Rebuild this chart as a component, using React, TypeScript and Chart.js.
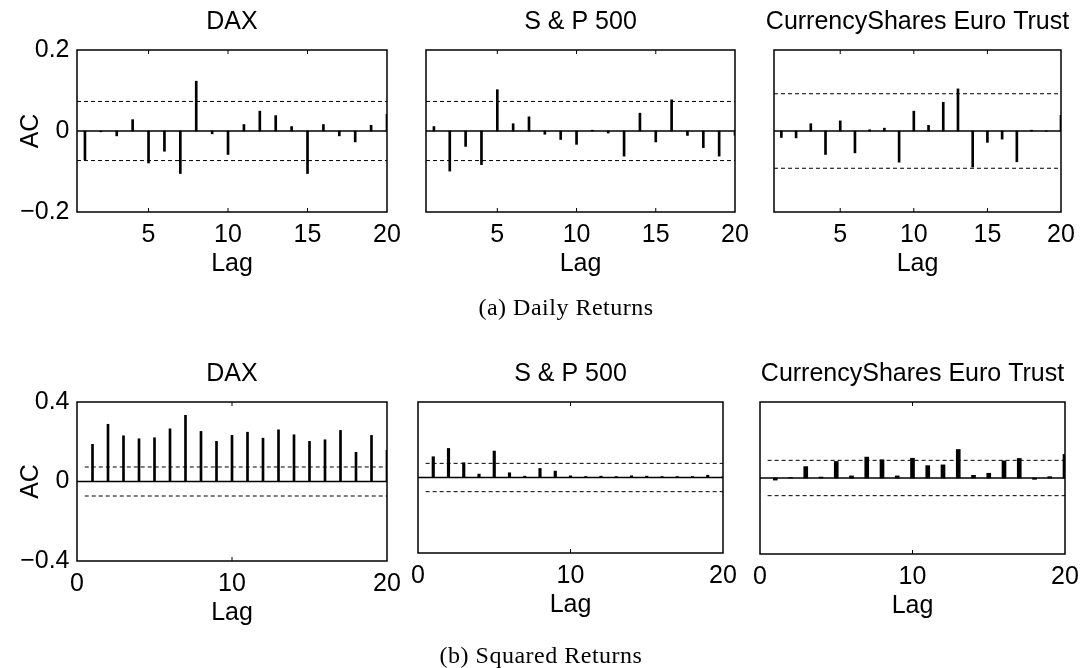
import React, { useEffect, useRef } from 'react';
import { Chart, registerables } from 'chart.js';

Chart.register(...registerables);

// ---------- data ----------
const lags = [1, 2, 3, 4, 5, 6, 7, 8, 9, 10, 11, 12, 13, 14, 15, 16, 17, 18, 19, 20];

const daxDaily = [-0.071, -0.002, -0.012, 0.028, -0.079, -0.05, -0.105, 0.123, -0.007, -0.058, 0.016, 0.049, 0.038, 0.011, -0.105, 0.016, -0.012, -0.027, 0.014, 0.041];
const spDaily = [0.011, -0.099, -0.038, -0.083, 0.102, 0.018, 0.035, -0.008, -0.021, -0.033, 0.002, -0.005, -0.062, 0.044, -0.027, 0.077, -0.011, -0.041, -0.062, -0.01];
const euroDaily = [-0.016, -0.017, 0.018, -0.058, 0.025, -0.054, 0.003, 0.007, -0.077, 0.049, 0.014, 0.071, 0.104, -0.089, -0.028, -0.02, -0.076, 0.002, -0.001, 0.039];

const daxSquared = [0.187, 0.288, 0.23, 0.215, 0.22, 0.265, 0.333, 0.252, 0.202, 0.232, 0.248, 0.218, 0.26, 0.235, 0.202, 0.21, 0.257, 0.147, 0.232, 0.157];
const spSquared = [0.11, 0.154, 0.078, 0.018, 0.14, 0.025, 0.007, 0.048, 0.034, 0.009, 0.005, 0.007, 0.005, 0.009, 0.007, 0.005, 0.005, 0.005, 0.012, 0.004];
const euroSquared = [-0.011, 0.002, 0.06, 0.005, 0.087, 0.011, 0.11, 0.096, 0.011, 0.104, 0.065, 0.069, 0.15, 0.014, 0.025, 0.09, 0.103, -0.007, 0.007, 0.124];

const dailyBands = [0.073, 0.073, 0.092];
const squaredBands = [0.073, 0.075, 0.093];

const seriesTitles = ['DAX', 'S & P 500', 'CurrencyShares Euro Trust'];
const xAxisTitle = 'Lag';
const yAxisTitle = 'AC';

const dailyXTicks = [5, 10, 15, 20];
const squaredXTicks = [0, 10, 20];
const dailyYTicks = [-0.2, 0, 0.2];
const squaredYTicks = [-0.4, 0, 0.4];

const captionDaily = '(a) Daily Returns';
const captionSquared = '(b) Squared Returns';

// ---------- layout / style ----------
const FONT = 'Liberation Sans';
const FS = 25;
const SIDE_W = 77; // width of the left (and mirrored right) axis boxes
const TITLE_H = 50;
const X_H = 70;

type Panel = {
  title: string;
  values: number[];
  band: number;
  area: [number, number, number, number]; // left, top, right, bottom
  xMin: number;
  xMax: number;
  xTicks: number[];
  yLim: number;
  yTicks: number[];
  showY: boolean;
  barW: number;
};

const panels: Panel[] = [
  { title: seriesTitles[0], values: daxDaily, band: dailyBands[0], area: [77, 50, 386.7, 212.3], xMin: 0.5, xMax: 20, xTicks: dailyXTicks, yLim: 0.2, yTicks: dailyYTicks, showY: true, barW: 2 },
  { title: seriesTitles[1], values: spDaily, band: dailyBands[1], area: [425.7, 50, 735, 212.3], xMin: 0.5, xMax: 20, xTicks: dailyXTicks, yLim: 0.2, yTicks: dailyYTicks, showY: false, barW: 2 },
  { title: seriesTitles[2], values: euroDaily, band: dailyBands[2], area: [774.3, 50, 1061.7, 212.3], xMin: 0.5, xMax: 20, xTicks: dailyXTicks, yLim: 0.2, yTicks: dailyYTicks, showY: false, barW: 2 },
  { title: seriesTitles[0], values: daxSquared, band: squaredBands[0], area: [77, 401.7, 386.7, 561], xMin: 0, xMax: 20, xTicks: squaredXTicks, yLim: 0.4, yTicks: squaredYTicks, showY: true, barW: 2 },
  { title: seriesTitles[1], values: spSquared, band: squaredBands[1], area: [417.5, 402, 722, 553], xMin: 0, xMax: 20, xTicks: squaredXTicks, yLim: 0.4, yTicks: squaredYTicks, showY: false, barW: 2.5 },
  { title: seriesTitles[2], values: euroSquared, band: squaredBands[2], area: [760, 401.5, 1064.5, 553.3], xMin: 0, xMax: 20, xTicks: squaredXTicks, yLim: 0.4, yTicks: squaredYTicks, showY: false, barW: 4 },
];

const fmt = (v: number) => (Math.abs(v) < 1e-9 ? '0' : String(v).replace('-', '\u2212'));

const framePlugin = {
  id: 'matlabFrame',
  afterDatasetsDraw(chart: any) {
    const { ctx, chartArea: a, scales } = chart;
    const x = scales.x;
    ctx.save();
    ctx.strokeStyle = '#000';
    ctx.lineWidth = 1;
    x.ticks.forEach((t: any) => {
      const px = x.getPixelForValue(t.value);
      if (px > a.left + 2 && px < a.right - 2) {
        ctx.beginPath();
        ctx.moveTo(px, a.top);
        ctx.lineTo(px, a.top + 4);
        ctx.moveTo(px, a.bottom);
        ctx.lineTo(px, a.bottom - 4);
        ctx.stroke();
      }
    });
    ctx.lineWidth = 1.5;
    ctx.strokeRect(a.left, a.top, a.right - a.left, a.bottom - a.top);
    ctx.restore();
  },
};

function PanelChart({ p }: { p: Panel }) {
  const ref = useRef<HTMLCanvasElement | null>(null);
  const [L, T, R, B] = p.area;
  const cl = L - SIDE_W;
  const ct = T - TITLE_H;
  const cw = Math.round(SIDE_W * 2 + (R - L));
  const ch = Math.round(TITLE_H + (B - T) + X_H);

  useEffect(() => {
    if (!ref.current) return;
    const bars = lags.map((l, i) => ({ x: l, y: p.values[i] }));
    const chart = new Chart(ref.current, {
      type: 'bar',
      data: {
        datasets: [
          {
            type: 'bar',
            data: bars as any,
            backgroundColor: '#000',
            borderWidth: 0,
            barThickness: p.barW,
            order: 2,
          } as any,
          {
            type: 'line',
            data: [{ x: 0.5, y: p.band }, { x: p.xMax, y: p.band }] as any,
            borderColor: '#000',
            borderWidth: 1,
            borderDash: [4, 3],
            pointRadius: 0,
            order: 1,
          } as any,
          {
            type: 'line',
            data: [{ x: 0.5, y: -p.band }, { x: p.xMax, y: -p.band }] as any,
            borderColor: '#000',
            borderWidth: 1,
            borderDash: [4, 3],
            pointRadius: 0,
            order: 1,
          } as any,
          {
            type: 'line',
            data: [{ x: p.xMin, y: 0 }, { x: p.xMax, y: 0 }] as any,
            borderColor: '#000',
            borderWidth: 1.6,
            pointRadius: 0,
            order: 0,
          } as any,
        ],
      },
      options: {
        animation: false,
        responsive: false,
        maintainAspectRatio: false,
        layout: { padding: 0 },
        plugins: {
          legend: { display: false },
          tooltip: { enabled: false },
          title: {
            display: true,
            text: p.title,
            color: '#000',
            font: { family: FONT, size: FS, weight: 'normal' as any },
            padding: { top: 7.5, bottom: 12.5 },
          },
        },
        scales: {
          x: {
            type: 'linear',
            min: p.xMin,
            max: p.xMax,
            offset: false,
            grid: { display: false, drawTicks: false },
            border: { display: false },
            ticks: {
              color: '#000',
              font: { family: FONT, size: FS },
              padding: 8.5,
              maxRotation: 0,
              autoSkip: false,
              callback: (v: any) => fmt(Number(v)),
            },
            title: {
              display: true,
              text: xAxisTitle,
              color: '#000',
              font: { family: FONT, size: FS },
              padding: { top: 0, bottom: 3 },
            },
            afterBuildTicks: (s: any) => {
              s.ticks = p.xTicks.map((v) => ({ value: v }));
            },
            afterFit: (s: any) => {
              s.height = X_H;
              s.paddingLeft = 0;
              s.paddingRight = 0;
            },
          } as any,
          y: {
            type: 'linear',
            position: 'left',
            min: -p.yLim,
            max: p.yLim,
            grid: { display: false, drawTicks: false },
            border: { display: false },
            ticks: {
              display: p.showY,
              color: '#000',
              font: { family: FONT, size: FS },
              padding: 7.5,
              callback: (v: any) => fmt(Number(v)),
            },
            title: {
              display: p.showY,
              text: yAxisTitle,
              color: '#000',
              font: { family: FONT, size: FS },
              padding: { top: 16, bottom: 0 },
            },
            afterBuildTicks: (s: any) => {
              s.ticks = p.yTicks.map((v) => ({ value: v }));
            },
            afterFit: (s: any) => {
              s.width = SIDE_W;
              s.paddingTop = 0;
              s.paddingBottom = 0;
            },
          } as any,
          yRight: {
            type: 'linear',
            position: 'right',
            min: -p.yLim,
            max: p.yLim,
            grid: { display: false, drawTicks: false },
            border: { display: false },
            ticks: { display: false },
            afterFit: (s: any) => {
              s.width = SIDE_W;
              s.paddingTop = 0;
              s.paddingBottom = 0;
            },
          } as any,
        },
      },
      plugins: [framePlugin],
    });
    return () => chart.destroy();
  }, []);

  return (
    <canvas
      ref={ref}
      width={cw}
      height={ch}
      style={{ position: 'absolute', left: cl, top: ct, width: cw, height: ch }}
    />
  );
}

export default function App() {
  const captionStyle: React.CSSProperties = {
    position: 'absolute',
    width: 400,
    height: 30,
    lineHeight: '30px',
    textAlign: 'center',
    fontFamily: '"Liberation Serif", serif',
    fontSize: 24,
    letterSpacing: 0.5,
    color: '#000',
    whiteSpace: 'nowrap',
  };
  return (
    <div
      style={{
        position: 'fixed',
        left: 0,
        top: 0,
        width: 1081,
        height: 668,
        overflow: 'hidden',
        background: '#fff',
      }}
    >
      {panels.map((p, i) => (
        <PanelChart key={i} p={p} />
      ))}
      <div style={{ ...captionStyle, left: 566 - 200, top: 291.6 }}>{captionDaily}</div>
      <div style={{ ...captionStyle, left: 541 - 200, top: 639.6 }}>{captionSquared}</div>
    </div>
  );
}
